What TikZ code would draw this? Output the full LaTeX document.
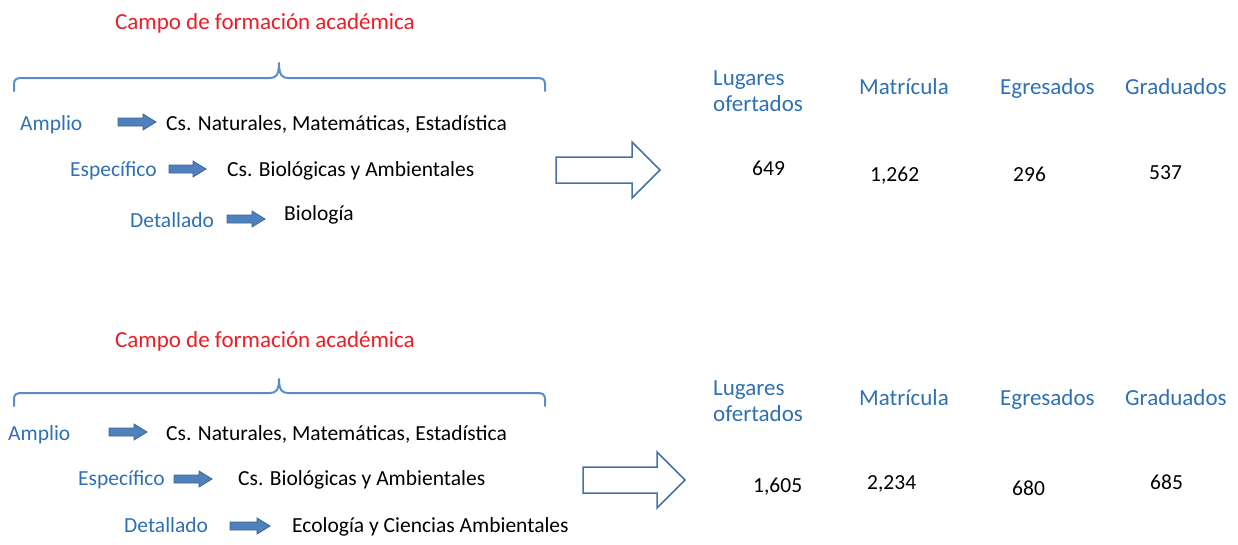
\documentclass[tikz,border=0pt]{standalone}
\usepackage{fontspec}
\setmainfont{Carlito}
\definecolor{txtblue}{RGB}{46,112,180}
\definecolor{txtred}{RGB}{238,28,36}
\definecolor{arrfill}{RGB}{79,129,189}
\definecolor{arrline}{RGB}{60,100,150}
\definecolor{bigline}{RGB}{70,115,165}
\definecolor{bracecol}{RGB}{90,140,200}
\tikzset{
  lbl/.style={anchor=base west,inner sep=0pt,text=txtblue,font=\fontsize{21.5}{26}\selectfont},
  hdr/.style={anchor=base west,inner sep=0pt,text=txtblue,font=\fontsize{23}{26}\selectfont,align=left},
  val/.style={anchor=base west,inner sep=0pt,text=black,font=\fontsize{21.5}{26}\selectfont},
  ttl/.style={anchor=base west,inner sep=0pt,text=txtred,font=\fontsize{23}{26}\selectfont},
  brc/.style={draw=bracecol,line width=2pt,line cap=round,line join=round},
  blk/.style={fill=arrfill,draw=arrline,line width=0.8pt},
  hollow/.style={fill=white,draw=bigline,line width=1.5pt}
}
% small block arrow: x1, x2, yc
\newcommand{\blkarrow}[3]{%
  \filldraw[blk] (#1,#3-4) -- (#2-13,#3-4) -- (#2-13,#3-8) -- (#2,#3) -- (#2-13,#3+8) -- (#2-13,#3+4) -- (#1,#3+4) -- cycle;}
% big hollow arrow: x1, xbase, xtip, yc
\newcommand{\hollowarrow}[4]{%
  \draw[hollow] (#1,#4-13) -- (#2,#4-13) -- (#2,#4-28) -- (#3,#4) -- (#2,#4+28) -- (#2,#4+13) -- (#1,#4+13) -- cycle;}
% brace: ytip, yline, yend
\newcommand{\topbrace}[3]{%
  \draw[brc] (14,#3) -- (14,#2+6) .. controls (14,#2+1) and (17,#2) .. (22,#2) -- (270,#2)
     .. controls (276,#2) and (279,#2-3) .. (279,#1) .. controls (279,#2-3) and (282,#2) .. (288,#2)
     -- (537,#2) .. controls (542,#2) and (545,#2+1) .. (545,#2+6) -- (545,#3);}
\begin{document}
\begin{tikzpicture}[x=1pt,y=-1pt]
\useasboundingbox (0,0) rectangle (1238,544);
% ---------- top panel ----------
\node[ttl] (t1) at (115,29) {Campo de formación académica};
\topbrace{63}{78}{91}
\node[lbl] (a1) at (20,130) {Amplio};
\blkarrow{118}{156}{122}
\node[val] (a1v) at (166,130) {Cs. Naturales, Matemáticas, Estadística};
\node[lbl] (e1) at (70,176) {Específico};
\blkarrow{169}{206}{169}
\node[val] (e1v) at (227,176) {Cs. Biológicas y Ambientales};
\node[lbl] (d1) at (130,227) {Detallado};
\blkarrow{227}{265}{219}
\node[val] (d1v) at (284,220) {Biología};
\hollowarrow{556}{632}{660}{170}
\node[hdr] (h11) at (713,111) {Lugares\\ofertados};
\node[hdr] (h12) at (859,94) {Matrícula};
\node[hdr] (h13) at (1000,94) {Egresados};
\node[hdr] (h14) at (1125,94) {Graduados};
\node[val] (v11) at (752,175) {649};
\node[val] (v12) at (870,181) {1,262};
\node[val] (v13) at (1013,181) {296};
\node[val] (v14) at (1149,179) {537};
% ---------- bottom panel ----------
\node[ttl] (t2) at (115,347) {Campo de formación académica};
\topbrace{379}{393}{406}
\node[lbl] (a2) at (8,440) {Amplio};
\blkarrow{109}{147}{432}
\node[val] (a2v) at (166,440) {Cs. Naturales, Matemáticas, Estadística};
\node[lbl] (e2) at (78,485) {Específico};
\blkarrow{174}{212}{479}
\node[val] (e2v) at (238,485) {Cs. Biológicas y Ambientales};
\node[lbl] (d2) at (124,532) {Detallado};
\blkarrow{230}{270}{526}
\node[val] (d2v) at (292,532) {Ecología y Ciencias Ambientales};
\hollowarrow{583}{657}{685}{480}
\node[hdr] (h21) at (713,421) {Lugares\\ofertados};
\node[hdr] (h22) at (859,405) {Matrícula};
\node[hdr] (h23) at (1000,405) {Egresados};
\node[hdr] (h24) at (1125,405) {Graduados};
\node[val] (v21) at (753,492) {1,605};
\node[val] (v22) at (867,489) {2,234};
\node[val] (v23) at (1012,495) {680};
\node[val] (v24) at (1150,489) {685};
\end{tikzpicture}
\end{document}
